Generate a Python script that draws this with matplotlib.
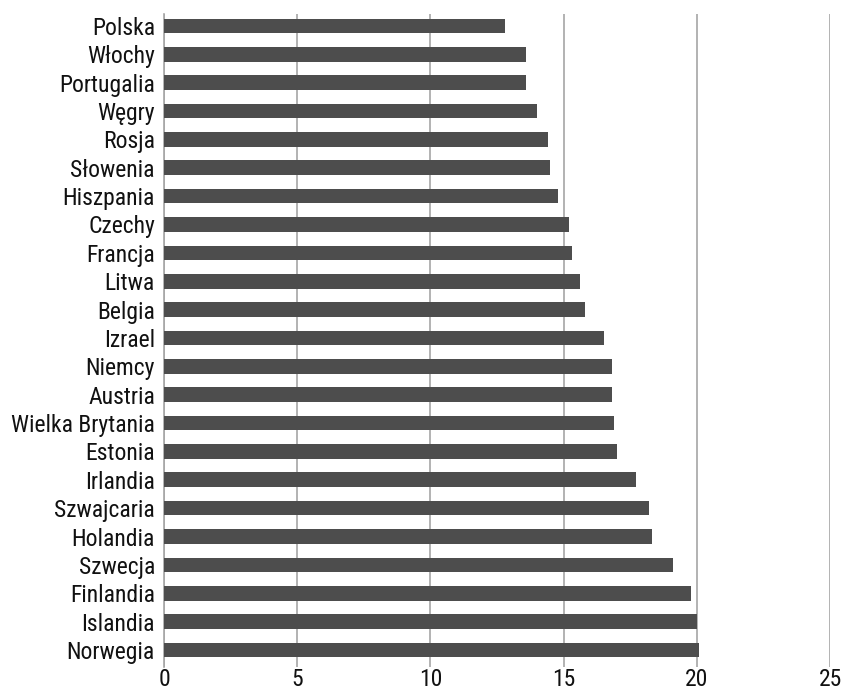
import matplotlib
matplotlib.use('Agg')
import matplotlib.pyplot as plt
from matplotlib import font_manager

# pick a narrow face if one is around, Roboto otherwise
names = {f.name for f in font_manager.fontManager.ttflist}
family = 'Roboto'
for cand in ['Roboto Condensed', 'Liberation Sans Narrow']:
    if cand in names:
        family = cand
        break
plt.rcParams['font.family'] = [family, 'DejaVu Sans']
fontsize = 17

countries = ['Polska', 'Włochy', 'Portugalia', 'Węgry', 'Rosja', 'Słowenia',
             'Hiszpania', 'Czechy', 'Francja', 'Litwa', 'Belgia', 'Izrael',
             'Niemcy', 'Austria', 'Wielka Brytania', 'Estonia', 'Irlandia',
             'Szwajcaria', 'Holandia', 'Szwecja', 'Finlandia', 'Islandia',
             'Norwegia']
values = [12.8, 13.6, 13.6, 14.0, 14.4, 14.5, 14.8, 15.2, 15.3, 15.6, 15.8,
          16.5, 16.8, 16.8, 16.9, 17.0, 17.7, 18.2, 18.3, 19.1, 19.8, 20.0,
          20.1]
xticks = [0, 5, 10, 15, 20, 25]

fig = plt.figure(figsize=(8.44, 6.92), dpi=100)
ax = fig.add_axes([164/844, 1-666.7/692, (830-164)/844, (666.7-14)/692])

pos = list(range(len(countries)))
ax.barh(pos, values, height=0.515, color='#4d4d4d', zorder=3)

ax.set_xlim(0, 25)
ax.set_ylim(22.59, -0.42)
ax.set_xticks(xticks)
ax.set_xticklabels([str(t) for t in xticks], fontsize=fontsize)
ax.set_yticks(pos)
ax.set_yticklabels(countries, fontsize=fontsize)
ax.tick_params(axis='both', length=0, colors='#111111')
ax.tick_params(axis='y', pad=6.5)
ax.tick_params(axis='x', pad=1)

ax.grid(axis='x', color='#a6a6a6', linewidth=1.2, zorder=0)
for s in ['top', 'right', 'bottom']:
    ax.spines[s].set_visible(False)
ax.spines['left'].set_color('#a6a6a6')
ax.spines['left'].set_linewidth(1.2)

fig.savefig('out.png', dpi=100)
